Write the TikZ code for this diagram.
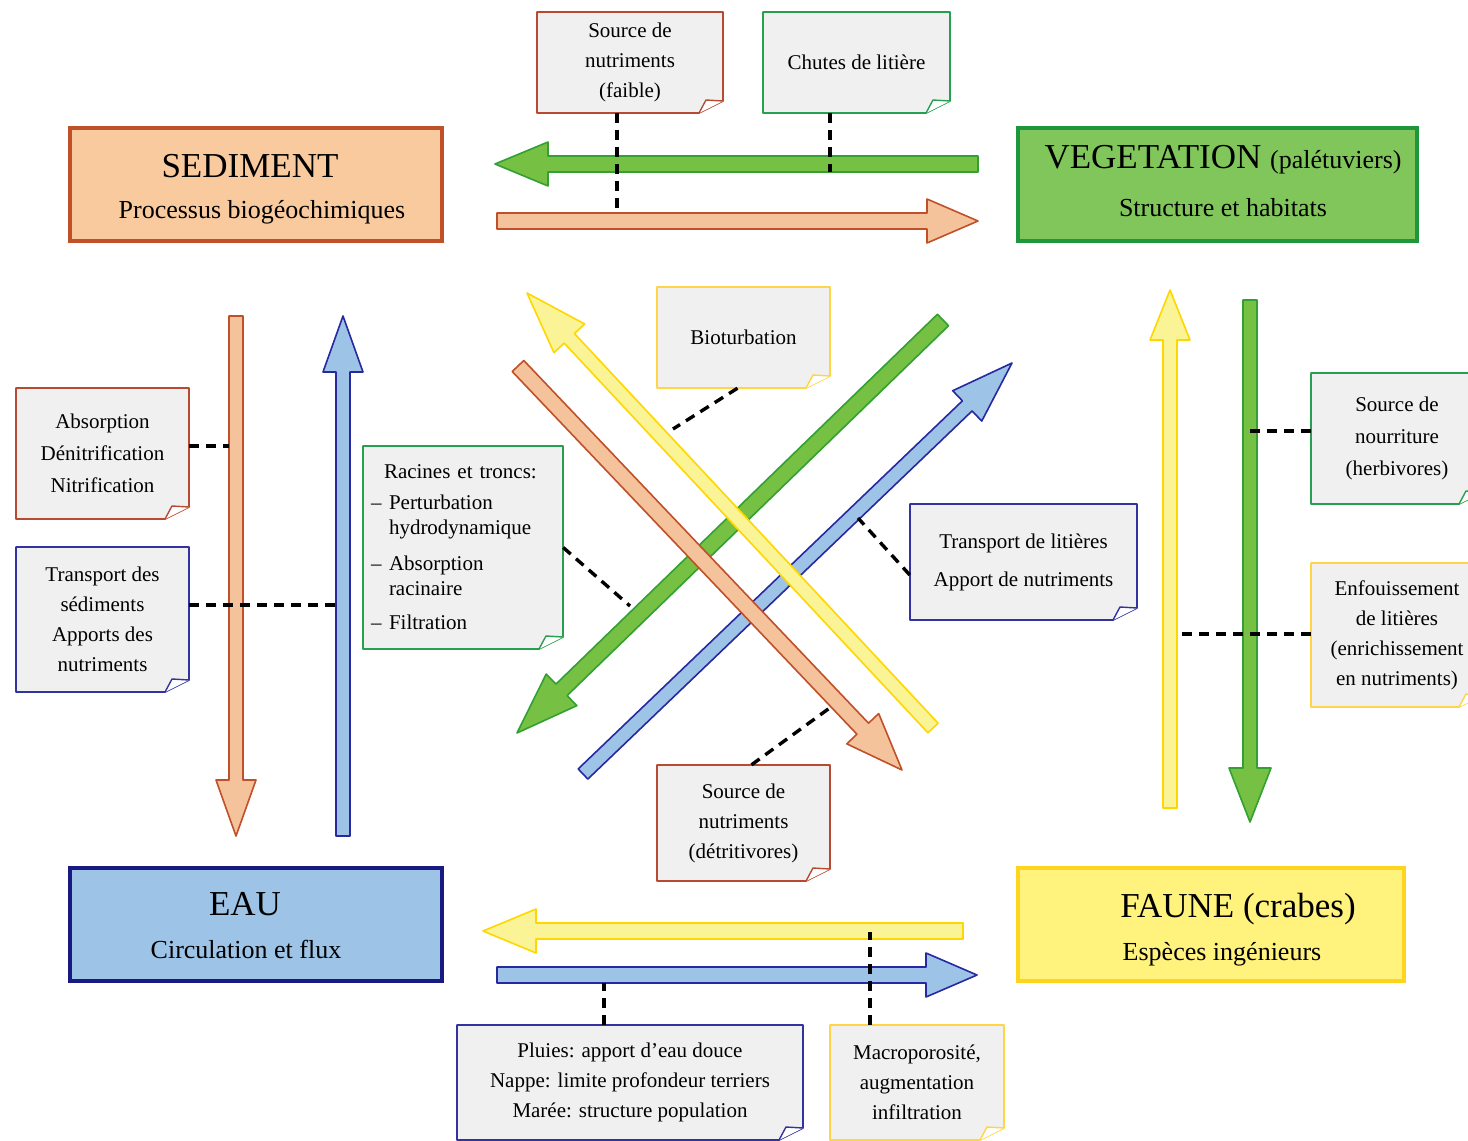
\documentclass[tikz,border=0pt]{standalone}
\usepackage{fontspec}
\setmainfont{Liberation Serif}
\usetikzlibrary{calc}
\definecolor{sedfill}{RGB}{249,202,158}
\definecolor{seddraw}{RGB}{192,80,42}
\definecolor{vegfill}{RGB}{128,198,90}
\definecolor{vegdraw}{RGB}{30,150,60}
\definecolor{eaufill}{RGB}{157,195,230}
\definecolor{eaudraw}{RGB}{25,25,130}
\definecolor{faufill}{RGB}{255,242,125}
\definecolor{faudraw}{RGB}{255,212,30}
\definecolor{notefill}{RGB}{240,240,240}
\definecolor{nred}{RGB}{184,74,50}
\definecolor{ngreen}{RGB}{40,158,80}
\definecolor{nblue}{RGB}{50,50,160}
\definecolor{nyellow}{RGB}{255,213,70}
\definecolor{aoF}{RGB}{245,195,155}
\definecolor{aoD}{RGB}{192,80,42}
\definecolor{agF}{RGB}{118,192,67}
\definecolor{agD}{RGB}{50,160,50}
\definecolor{abF}{RGB}{157,195,230}
\definecolor{abD}{RGB}{40,40,160}
\definecolor{ayF}{RGB}{250,244,150}
\definecolor{ayD}{RGB}{255,215,0}
\tikzset{
  mainbox/.style={draw, line width=4pt, inner sep=0pt},
  titletext/.style={font=\fontsize{35}{40}\selectfont, anchor=base, inner sep=0pt},
  subtext/.style={font=\fontsize{26}{30}\selectfont, anchor=base, inner sep=0pt},
  notetext/.style={font=\fontsize{21}{30}\selectfont, align=center, inner sep=0pt},
  dashline/.style={line width=3.4pt, dash pattern=on 10pt off 7pt},
  orangeA/.style={fill=aoF, draw=aoD, line width=1.6pt, line join=round},
  greenA/.style={fill=agF, draw=agD, line width=1.6pt, line join=round},
  blueA/.style={fill=abF, draw=abD, line width=1.6pt, line join=round},
  yellowA/.style={fill=ayF, draw=ayD, line width=1.6pt, line join=round},
}
% block arrow: #1 style, #2 tail, #3 tip, #4 shaft half width, #5 head half width, #6 head length
\newcommand\barrow[6]{%
  \path ($(#3)!#6!(#2)$) coordinate (hb);
  \draw[#1] ($(#2)!#4!90:(#3)$) -- ($(hb)!#4!-90:(#2)$) -- ($(hb)!#5!-90:(#2)$) -- (#3)
    -- ($(hb)!#5!90:(#2)$) -- ($(hb)!#4!90:(#2)$) -- ($(#2)!#4!-90:(#3)$) -- cycle;}
% note with folded corner: [#1 node options] #2 name, #3 colour, #4 x1, #5 y1, #6 x2, #7 y2, #8 text
\newcommand\notebox[8][]{%
  \path[fill=notefill, draw=#3, line width=1.7pt, line join=round]
    (#4,#5) -- (#6,#5) -- (#6,#7-12) -- (#6-24,#7) -- (#4,#7) -- cycle;
  \path[fill=white, draw=#3, line width=1.4pt, line join=round]
    (#6,#7-12) -- (#6-17,#7-13) -- (#6-24,#7);
  \node[notetext, minimum width={(#6-#4)*1pt}, minimum height={(#7-#5)*1pt}, #1]
    (#2) at ({(#4+#6)/2},{(#5+#7)/2}) {#8};}
\begin{document}
\begin{tikzpicture}[x=1pt,y=-1pt]
\useasboundingbox (0,0) rectangle (1468,1141);
\clip (0,0) rectangle (1468,1141);
\fill[white] (0,0) rectangle (1468,1141);

% main boxes
\node[mainbox, draw=seddraw, fill=sedfill, minimum width=372pt, minimum height=113pt] (sed) at (256,184.5) {};
\node[titletext] (sedT) at (250,177) {SEDIMENT};
\node[subtext] (sedS) at (262,218) {Processus biogéochimiques};

\node[mainbox, draw=vegdraw, fill=vegfill, minimum width=399pt, minimum height=113pt] (veg) at (1217.5,184.5) {};
\node[titletext] (vegT) at (1223,168) {VEGETATION {\fontsize{26}{30}\selectfont (palétuviers)}};
\node[subtext] (vegS) at (1223,216) {Structure et habitats};

\node[mainbox, draw=eaudraw, fill=eaufill, minimum width=372pt, minimum height=113pt] (eau) at (256,924.5) {};
\node[titletext] (eauT) at (245,915) {EAU};
\node[subtext] (eauS) at (246,958) {Circulation et flux};

\node[mainbox, draw=faudraw, fill=faufill, minimum width=386pt, minimum height=113pt] (fau) at (1211,924.5) {};
\node[titletext] (fauT) at (1238,917) {FAUNE (crabes)};
\node[subtext] (fauS) at (1222,960) {Espèces ingénieurs};

% arrow end points
\coordinate (gtT) at (978,164);  \coordinate (gtH) at (495,164);
\coordinate (otT) at (497,221);  \coordinate (otH) at (978,221);
\coordinate (olT) at (236,316);  \coordinate (olH) at (236,836);
\coordinate (blT) at (343,836);  \coordinate (blH) at (343,316);
\coordinate (yrT) at (1170,808); \coordinate (yrH) at (1170,290);
\coordinate (grT) at (1250,300); \coordinate (grH) at (1250,822);
\coordinate (ybT) at (963,931);  \coordinate (ybH) at (483,931);
\coordinate (bbT) at (497,975);  \coordinate (bbH) at (977,975);
\coordinate (gdT) at (943,320);  \coordinate (gdH) at (517,733);
\coordinate (bdT) at (583,774);  \coordinate (bdH) at (1012,363);
\coordinate (ydT) at (933,728);  \coordinate (ydH) at (527,293);
\coordinate (odT) at (518,366);  \coordinate (odH) at (902,770);

% horizontal and vertical arrows
\barrow{greenA}{gtT}{gtH}{8pt}{22pt}{53pt}
\barrow{orangeA}{otT}{otH}{8pt}{22pt}{51pt}
\barrow{orangeA}{olT}{olH}{7pt}{20pt}{56pt}
\barrow{blueA}{blT}{blH}{7pt}{20pt}{56pt}
\barrow{yellowA}{yrT}{yrH}{7pt}{20pt}{50pt}
\barrow{greenA}{grT}{grH}{7pt}{21pt}{54pt}
\barrow{yellowA}{ybT}{ybH}{8pt}{22pt}{53pt}
\barrow{blueA}{bbT}{bbH}{8pt}{22pt}{51pt}
% diagonal arrows
\barrow{greenA}{gdT}{gdH}{8pt}{22pt}{62pt}
\barrow{blueA}{bdT}{bdH}{7pt}{21pt}{62pt}
\barrow{yellowA}{ydT}{ydH}{7pt}{21pt}{62pt}
\barrow{orangeA}{odT}{odH}{8pt}{22pt}{57pt}

% notes
\notebox{n1}{nred}{537}{12}{723}{113}{Source de\\nutriments\\(faible)}
\notebox{n2}{ngreen}{763}{12}{950}{113}{Chutes de litière}
\notebox{n3}{nred}{16}{388}{189}{519}{Absorption\\[2pt]Dénitrification\\[2pt]Nitrification}
\notebox{n4}{nblue}{16}{547}{189}{692}{Transport des\\sédiments\\Apports des\\nutriments}
\notebox[align=left, text width=184pt, font=\fontsize{21}{25}\selectfont]{n5}{ngreen}{363}{446}{563}{649}{%
\hspace*{13pt}Racines et troncs:\\[6pt]
\makebox[18pt][l]{--}Perturbation\\
\hspace*{18pt}hydrodynamique\\[11pt]
\makebox[18pt][l]{--}Absorption\\
\hspace*{18pt}racinaire\\[9pt]
\makebox[18pt][l]{--}Filtration}
\notebox{n6}{nyellow}{657}{287}{830}{388}{Bioturbation}
\notebox{n7}{nblue}{910}{504}{1137}{620}{Transport de litières\\[8pt]Apport de nutriments}
\notebox{n8}{nred}{657}{765}{830}{881}{Source de\\nutriments\\(détritivores)}
\notebox{n9}{ngreen}{1311}{373}{1483}{504}{Source de\\[2pt]nourriture\\[2pt](herbivores)}
\notebox{n10}{nyellow}{1311}{563}{1483}{707}{Enfouissement\\de litières\\(enrichissement\\en nutriments)}
\notebox{n11}{nblue}{457}{1025}{803}{1140}{Pluies: apport d'eau douce\\Nappe: limite profondeur terriers\\Marée: structure population}
\notebox{n12}{nyellow}{830}{1025}{1004}{1140}{Macroporosité,\\augmentation\\infiltration}

% connector end points on the arrows
\coordinate (d1) at (617,213);
\coordinate (d2) at (830,172);
\coordinate (d3) at (229,446);
\coordinate (d4) at (336,605);
\coordinate (d5) at (630,606);
\coordinate (d6) at (673,429);
\coordinate (d7) at (858,518);
\coordinate (d8) at (831,707);
\coordinate (d9) at (1243,431);
\coordinate (d10) at (1177,634);
\coordinate (d11) at (604,983);
\coordinate (d12) at (870,932);

% dashed connectors
\draw[dashline] (n1.south -| d1) -- (d1);
\draw[dashline] (n2.south -| d2) -- (d2);
\draw[dashline] (d3 -| n3.east) -- (d3);
\draw[dashline] (d4 -| n4.east) -- (d4);
\draw[dashline] (n5.east) -- (d5);
\draw[dashline] ($(n6.south)+(-6,0)$) -- (d6);
\draw[dashline] ($(n7.west)+(0,13)$) -- (d7);
\draw[dashline] ($(n8.north)+(8,0)$) -- (d8);
\draw[dashline] (d9 -| n9.west) -- (d9);
\draw[dashline] (d10 -| n10.west) -- (d10);
\draw[dashline] (n11.north -| d11) -- (d11);
\draw[dashline] (n12.north -| d12) -- (d12);
\end{tikzpicture}
\end{document}
